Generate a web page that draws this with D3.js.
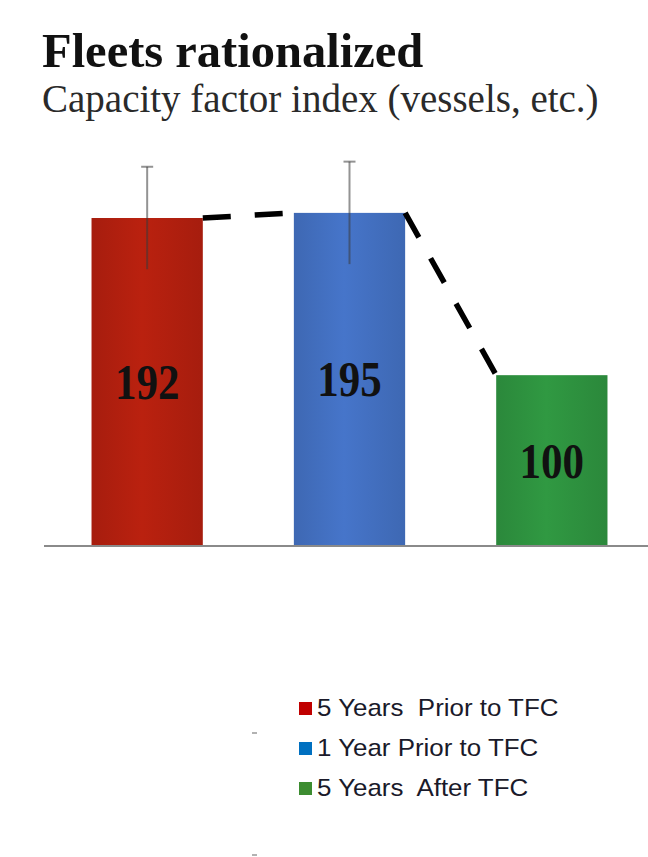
<!DOCTYPE html>
<html>
<head>
<meta charset="utf-8">
<script src="https://cdn.jsdelivr.net/npm/d3@7"></script>
<style>
  html, body { margin: 0; padding: 0; background: #fff; }
  svg { display: block; }
</style>
</head>
<body>
<div id="chart"></div>
<script>
// Capacity factor index per period
const categories = ["5 Years  Prior to TFC", "1 Year Prior to TFC", "5 Years  After TFC"];
const values = [192, 195, 100];
const errors = [30, 30, 0];
const barColors = ["#B5200F", "#4472C4", "#2F9540"];
const legendColors = ["#C00000", "#0070C0", "#3C8C30"];
const title = "Fleets rationalized";
const subtitle = "Capacity factor index (vessels, etc.)";

const W = 648, H = 857;
const baseY = 546;

const svg = d3.select("#chart").append("svg")
  .attr("width", W).attr("height", H);

const defs = svg.append("defs");
barColors.forEach((c, i) => {
  const g = defs.append("linearGradient").attr("id", "bg" + i)
    .attr("x1", "0%").attr("x2", "100%").attr("y1", "0%").attr("y2", "0%");
  const dark = d3.color(c).darker(0.25).formatHex();
  const light = d3.color(c).brighter(0.08).formatHex();
  g.append("stop").attr("offset", "0%").attr("stop-color", dark);
  g.append("stop").attr("offset", "45%").attr("stop-color", light);
  g.append("stop").attr("offset", "100%").attr("stop-color", dark);
});

const x = d3.scaleBand()
  .domain(categories)
  .range([46, 653])
  .paddingInner(0.45)
  .paddingOuter(0.225);

const y = d3.scaleLinear()
  .domain([0, 240])
  .range([baseY, baseY - 240 * 1.7083]);

// title block
svg.append("text")
  .attr("x", 42).attr("y", 67)
  .attr("font-family", "Liberation Serif, Times New Roman, serif")
  .attr("font-weight", "bold")
  .attr("font-size", 48.5)
  .attr("fill", "#111")
  .text(title);

svg.append("text")
  .attr("x", 42).attr("y", 112)
  .attr("font-family", "Liberation Serif, Times New Roman, serif")
  .attr("font-size", 39)
  .attr("fill", "#2a2a2a")
  .text(subtitle);

// bars
svg.append("g").selectAll("rect")
  .data(values)
  .join("rect")
  .attr("x", (d, i) => x(categories[i]))
  .attr("y", d => y(d))
  .attr("width", x.bandwidth())
  .attr("height", d => y(0) - y(d))
  .attr("fill", (d, i) => `url(#bg${i})`);

// error bars
const eg = svg.append("g")
  .attr("stroke", "#3a3a3a").attr("stroke-opacity", 0.55).attr("stroke-width", 2);
values.forEach((v, i) => {
  if (!errors[i]) return;
  const cx = x(categories[i]) + x.bandwidth() / 2;
  eg.append("line")
    .attr("x1", cx).attr("x2", cx)
    .attr("y1", y(v - errors[i])).attr("y2", y(v + errors[i]));
  eg.append("line")
    .attr("x1", cx - 6).attr("x2", cx + 6)
    .attr("y1", y(v + errors[i])).attr("y2", y(v + errors[i]));
});

// baseline
svg.append("line")
  .attr("x1", 44).attr("x2", W)
  .attr("y1", y(0)).attr("y2", y(0))
  .attr("stroke", "#8a8a8a").attr("stroke-width", 2);

// dashed trend connectors between adjacent bar tops
const lg = svg.append("g")
  .attr("stroke", "#000").attr("stroke-width", 5.5)
  .attr("stroke-dasharray", "28 24").attr("fill", "none");
for (let i = 0; i < values.length - 1; i++) {
  lg.append("line")
    .attr("x1", x(categories[i]) + x.bandwidth())
    .attr("y1", y(values[i]))
    .attr("x2", x(categories[i + 1]))
    .attr("y2", y(values[i + 1]));
}

// value labels centred in each bar (condensed bold serif)
svg.append("g").selectAll("text")
  .data(values)
  .join("text")
  .attr("transform", (d, i) =>
    `translate(${x(categories[i]) + x.bandwidth() / 2},${(y(d) + y(0)) / 2}) scale(0.86,1)`)
  .attr("dy", "0.34em")
  .attr("text-anchor", "middle")
  .attr("font-family", "Liberation Serif, Times New Roman, serif")
  .attr("font-weight", "bold")
  .attr("font-size", 50)
  .attr("fill", "#111")
  .text(d => d);

// legend
const legend = svg.append("g");
categories.forEach((c, i) => {
  const ly = 716 + i * 40;
  legend.append("rect")
    .attr("x", 299).attr("y", ly - 14)
    .attr("width", 13).attr("height", 13)
    .attr("fill", legendColors[i]);
  legend.append("text")
    .attr("transform", `translate(317,${ly}) scale(1.08,1)`)
    .attr("font-family", "Liberation Sans, Arial, sans-serif")
    .attr("font-size", 24)
    .attr("fill", "#1a1a2a")
    .style("white-space", "pre")
    .text(c);
});

// small tick marks at the left of the legend area
[733, 855].forEach(t => {
  svg.append("line")
    .attr("x1", 252).attr("x2", 257)
    .attr("y1", t).attr("y2", t)
    .attr("stroke", "#999").attr("stroke-width", 1.5);
});
</script>
</body>
</html>
